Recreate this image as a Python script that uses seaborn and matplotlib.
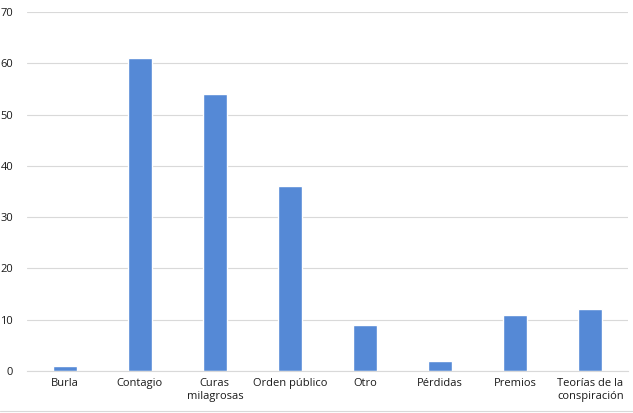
import matplotlib
matplotlib.use("Agg")
import matplotlib.pyplot as plt
import seaborn as sns
import pandas as pd
from matplotlib.lines import Line2D

categories = ["Burla", "Contagio", "Curas\nmilagrosas", "Orden público", "Otro",
              "Pérdidas", "Premios", "Teorías de la\nconspiración"]
values = [1, 61, 54, 36, 9, 2, 11, 12]
yticks = [0, 10, 20, 30, 40, 50, 60, 70]

sns.set_style("white")
plt.rcParams['font.family'] = ['Open Sans', 'DejaVu Sans']

df = pd.DataFrame({"cat": categories, "val": values})

fig = plt.figure(figsize=(6.33, 4.13), dpi=100)
ax = fig.add_axes([0.0427, 0.1017, 0.9494, 0.8693])
sns.barplot(data=df, x="cat", y="val", color="#5589d6", saturation=1, width=0.32, ax=ax)

ax.set_ylim(0, 70)
ax.set_yticks(yticks)
ax.set_xlim(-0.5, len(categories) - 0.5)
ax.yaxis.grid(True, color="#d9d9d9", linewidth=0.8)
ax.set_axisbelow(True)
for s in ["top", "right", "left"]:
    ax.spines[s].set_visible(False)
ax.spines["bottom"].set_color("#d9d9d9")
ax.spines["bottom"].set_linewidth(0.8)
ax.set_xlabel("")
ax.set_ylabel("")
ax.tick_params(axis="both", length=0, labelsize=8, colors="#1a1a1a", pad=5)
ax.tick_params(axis="y", pad=10)

fig.add_artist(Line2D([0, 1], [0.006, 0.006], transform=fig.transFigure,
                      color="#d9d9d9", linewidth=0.8))

fig.savefig("out.png", dpi=100)
